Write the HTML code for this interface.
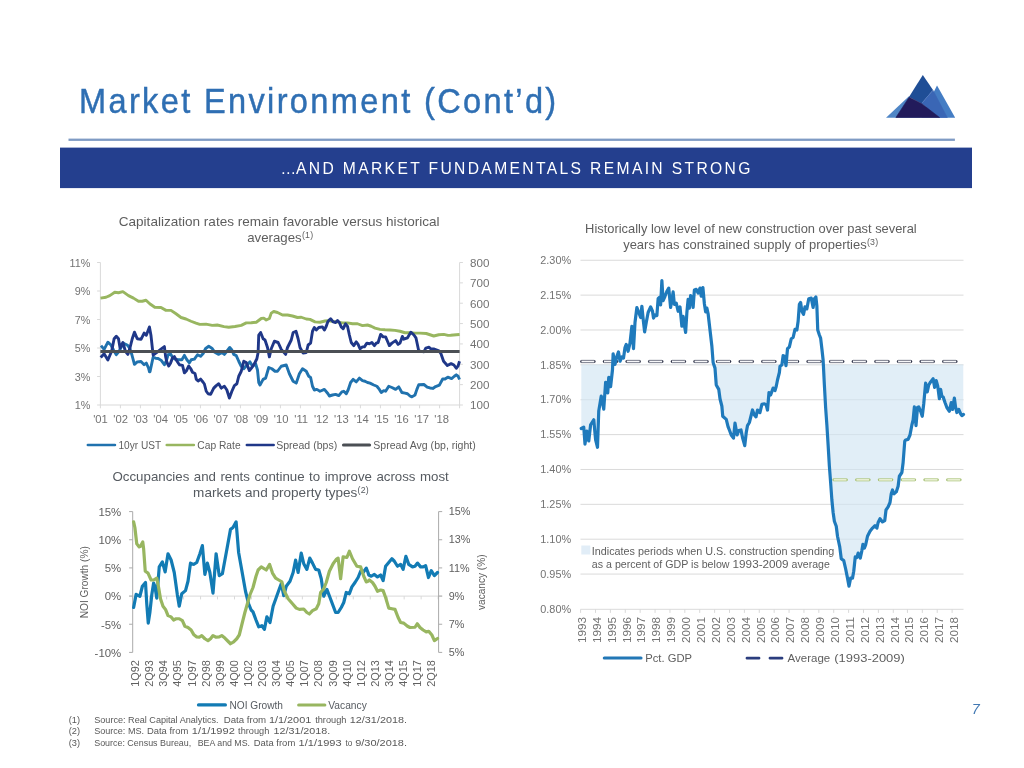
<!DOCTYPE html>
<html lang="en"><head><meta charset="utf-8"><title>Market Environment (Cont’d)</title>
<style>
html,body{margin:0;padding:0;background:#fff;}
body{width:1024px;height:768px;overflow:hidden;}
svg{display:block;font-family:"Liberation Sans",Arial,Helvetica,sans-serif;}
</style></head><body>
<svg width="1024" height="768" viewBox="0 0 1024 768">
<rect width="1024" height="768" fill="#ffffff"/>
<text transform="translate(79.00,112.5) scale(0.92,1)" font-size="35.4" fill="#2F6FB3" textLength="518.70" lengthAdjust="spacing" stroke="#2F6FB3" stroke-width="0.45">Market Environment (Cont’d)</text>
<rect x="68.5" y="138.6" width="886.4" height="2.3" fill="#7F9BC4"/>
<rect x="60" y="147.6" width="912" height="40.5" fill="#243F8E"/>
<text transform="translate(0,173.7) scale(0.9,1)" font-size="17.4" fill="#ffffff"><tspan x="311.78">…</tspan><tspan x="328.89" textLength="504.89" lengthAdjust="spacing">AND MARKET FUNDAMENTALS REMAIN STRONG</tspan></text>
<g><polygon points="886,117.8 909.2,96 921,117.8" fill="#4F86C6"/><polygon points="937,85.5 955.2,117.8 921,117.8" fill="#447DC4"/><polygon points="922.8,75 909,97 921.5,103.5 933,90" fill="#1F4E96"/><polygon points="933,90.3 921.6,103.5 940,117.5 947.3,117.5" fill="#3A66B5" stroke="#3A66B5" stroke-width="0.6" stroke-linejoin="round"/><polygon points="909.1,97.2 895.9,117.5 939.6,117.5 921.5,103.6" fill="#221B5B" stroke="#221B5B" stroke-width="0.6" stroke-linejoin="round"/></g>
<text x="118.75" y="225.6" font-size="12.6" fill="#5E5E5E" textLength="320.8" lengthAdjust="spacingAndGlyphs">Capitalization rates remain favorable versus historical</text><text x="247.2" y="242" font-size="12.6" fill="#5E5E5E"><tspan textLength="54.5" lengthAdjust="spacingAndGlyphs">averages</tspan><tspan font-size="8.8" dx="0.2" dy="-3.9" textLength="11.2" lengthAdjust="spacing">(1)</tspan></text>
<path d="M100.4,262.5 V405.0 M99.9,405.0 H460.1 M459.6,262.5 V405.0" stroke="#D9D9D9" stroke-width="1" fill="none"/>
<text x="90.3" y="266.8" font-size="10.8" fill="#727272" text-anchor="end">11%</text>
<text x="90.3" y="295.3" font-size="10.8" fill="#727272" text-anchor="end">9%</text>
<text x="90.3" y="323.8" font-size="10.8" fill="#727272" text-anchor="end">7%</text>
<text x="90.3" y="352.3" font-size="10.8" fill="#727272" text-anchor="end">5%</text>
<text x="90.3" y="380.8" font-size="10.8" fill="#727272" text-anchor="end">3%</text>
<text x="90.3" y="409.3" font-size="10.8" fill="#727272" text-anchor="end">1%</text>
<text x="470.0" y="266.8" font-size="10.8" fill="#727272" textLength="19.4" lengthAdjust="spacingAndGlyphs">800</text>
<text x="470.0" y="287.16" font-size="10.8" fill="#727272" textLength="19.4" lengthAdjust="spacingAndGlyphs">700</text>
<text x="470.0" y="307.51" font-size="10.8" fill="#727272" textLength="19.4" lengthAdjust="spacingAndGlyphs">600</text>
<text x="470.0" y="327.87" font-size="10.8" fill="#727272" textLength="19.4" lengthAdjust="spacingAndGlyphs">500</text>
<text x="470.0" y="348.23" font-size="10.8" fill="#727272" textLength="19.4" lengthAdjust="spacingAndGlyphs">400</text>
<text x="470.0" y="368.59" font-size="10.8" fill="#727272" textLength="19.4" lengthAdjust="spacingAndGlyphs">300</text>
<text x="470.0" y="388.94" font-size="10.8" fill="#727272" textLength="19.4" lengthAdjust="spacingAndGlyphs">200</text>
<text x="470.0" y="409.3" font-size="10.8" fill="#727272" textLength="19.4" lengthAdjust="spacingAndGlyphs">100</text>
<text x="100.5" y="422.6" font-size="10.8" fill="#727272" text-anchor="middle" textLength="14.64" lengthAdjust="spacingAndGlyphs">'01</text>
<text x="120.57" y="422.6" font-size="10.8" fill="#727272" text-anchor="middle" textLength="14.64" lengthAdjust="spacingAndGlyphs">'02</text>
<text x="140.64" y="422.6" font-size="10.8" fill="#727272" text-anchor="middle" textLength="14.64" lengthAdjust="spacingAndGlyphs">'03</text>
<text x="160.71" y="422.6" font-size="10.8" fill="#727272" text-anchor="middle" textLength="14.64" lengthAdjust="spacingAndGlyphs">'04</text>
<text x="180.78" y="422.6" font-size="10.8" fill="#727272" text-anchor="middle" textLength="14.64" lengthAdjust="spacingAndGlyphs">'05</text>
<text x="200.85" y="422.6" font-size="10.8" fill="#727272" text-anchor="middle" textLength="14.64" lengthAdjust="spacingAndGlyphs">'06</text>
<text x="220.92" y="422.6" font-size="10.8" fill="#727272" text-anchor="middle" textLength="14.64" lengthAdjust="spacingAndGlyphs">'07</text>
<text x="240.99" y="422.6" font-size="10.8" fill="#727272" text-anchor="middle" textLength="14.64" lengthAdjust="spacingAndGlyphs">'08</text>
<text x="261.06" y="422.6" font-size="10.8" fill="#727272" text-anchor="middle" textLength="14.64" lengthAdjust="spacingAndGlyphs">'09</text>
<text x="281.13" y="422.6" font-size="10.8" fill="#727272" text-anchor="middle" textLength="14.64" lengthAdjust="spacingAndGlyphs">'10</text>
<text x="301.2" y="422.6" font-size="10.8" fill="#727272" text-anchor="middle" textLength="13.8" lengthAdjust="spacingAndGlyphs">'11</text>
<text x="321.27" y="422.6" font-size="10.8" fill="#727272" text-anchor="middle" textLength="14.64" lengthAdjust="spacingAndGlyphs">'12</text>
<text x="341.34" y="422.6" font-size="10.8" fill="#727272" text-anchor="middle" textLength="14.64" lengthAdjust="spacingAndGlyphs">'13</text>
<text x="361.41" y="422.6" font-size="10.8" fill="#727272" text-anchor="middle" textLength="14.64" lengthAdjust="spacingAndGlyphs">'14</text>
<text x="381.48" y="422.6" font-size="10.8" fill="#727272" text-anchor="middle" textLength="14.64" lengthAdjust="spacingAndGlyphs">'15</text>
<text x="401.55" y="422.6" font-size="10.8" fill="#727272" text-anchor="middle" textLength="14.64" lengthAdjust="spacingAndGlyphs">'16</text>
<text x="421.62" y="422.6" font-size="10.8" fill="#727272" text-anchor="middle" textLength="14.64" lengthAdjust="spacingAndGlyphs">'17</text>
<text x="441.69" y="422.6" font-size="10.8" fill="#727272" text-anchor="middle" textLength="14.64" lengthAdjust="spacingAndGlyphs">'18</text>
<path d="M97.10000000000001,262.50 H100.4 M97.10000000000001,291.00 H100.4 M97.10000000000001,319.50 H100.4 M97.10000000000001,348.00 H100.4 M97.10000000000001,376.50 H100.4 M97.10000000000001,405.00 H100.4 M459.6,262.50 H462.90000000000003 M459.6,282.86 H462.90000000000003 M459.6,303.21 H462.90000000000003 M459.6,323.57 H462.90000000000003 M459.6,343.93 H462.90000000000003 M459.6,364.29 H462.90000000000003 M459.6,384.64 H462.90000000000003 M459.6,405.00 H462.90000000000003 M100.40,405.0 V408.3 M120.40,405.0 V408.3 M140.40,405.0 V408.3 M160.40,405.0 V408.3 M180.40,405.0 V408.3 M200.40,405.0 V408.3 M220.40,405.0 V408.3 M240.40,405.0 V408.3 M260.40,405.0 V408.3 M280.40,405.0 V408.3 M300.40,405.0 V408.3 M320.40,405.0 V408.3 M340.40,405.0 V408.3 M360.40,405.0 V408.3 M380.40,405.0 V408.3 M400.40,405.0 V408.3 M419.60,405.0 V408.3 M439.60,405.0 V408.3 M459.60,405.0 V408.3" stroke="#D9D9D9" stroke-width="1" fill="none"/>
<path d="M101.00,345.62 L104.12,349.38 L107.88,342.19 L111.00,345.00 L113.50,350.00 L116.31,354.69 L119.12,351.25 L121.00,347.50 L123.50,343.44 L127.25,345.00 L129.75,348.12 L131.94,355.00 L134.44,364.38 L137.25,361.88 L141.00,361.56 L144.12,364.69 L146.31,363.12 L148.50,368.00 L149.50,371.88 L150.00,371.62 L151.25,366.00 L153.12,357.25 L155.62,358.19 L158.12,358.50 L161.25,360.38 L164.38,364.75 L166.25,361.00 L168.12,354.75 L170.62,354.12 L172.50,357.25 L175.00,359.12 L178.12,359.75 L181.88,359.75 L184.38,355.38 L186.88,359.75 L189.38,362.88 L191.25,359.75 L194.38,359.12 L197.50,354.75 L200.62,356.31 L203.12,353.50 L205.62,348.50 L208.75,346.31 L211.88,348.19 L214.00,351.00 L214.38,351.88 L218.75,354.38 L221.88,352.50 L224.38,354.38 L226.88,351.25 L229.75,347.50 L231.88,350.00 L233.75,354.38 L236.25,355.62 L238.75,361.25 L241.25,366.25 L243.75,368.75 L246.88,365.00 L250.00,361.88 L252.50,366.25 L255.62,363.75 L257.50,370.00 L258.75,382.50 L260.00,385.00 L263.12,379.38 L265.62,378.12 L268.75,367.50 L271.88,368.75 L275.00,371.25 L277.50,371.25 L281.25,366.25 L286.25,365.00 L289.38,373.75 L293.12,381.25 L296.25,383.12 L299.38,373.75 L302.50,368.75 L306.25,371.25 L308.75,376.25 L310.62,377.50 L312.50,386.25 L314.38,390.00 L316.88,389.38 L320.00,391.25 L324.38,389.38 L328.00,393.75 L329.38,396.00 L332.50,395.00 L335.62,394.38 L338.75,395.62 L341.88,391.88 L343.75,391.25 L346.25,393.75 L348.12,390.00 L350.62,382.50 L353.12,379.38 L356.25,381.88 L359.38,378.12 L362.50,380.62 L365.00,381.25 L367.50,382.50 L370.00,383.12 L373.75,385.00 L376.88,386.25 L379.38,389.38 L381.25,392.50 L383.75,390.62 L385.62,391.25 L388.75,386.25 L391.88,387.50 L395.62,389.38 L398.75,386.88 L401.88,392.50 L405.00,393.12 L407.50,393.75 L410.00,396.00 L411.88,396.88 L415.00,395.00 L416.88,389.38 L418.75,384.69 L423.91,384.50 L427.19,387.03 L430.00,387.97 L432.81,388.44 L435.62,386.56 L439.37,385.16 L442.66,379.06 L445.00,379.06 L447.81,377.19 L451.56,378.59 L454.37,376.25 L456.25,374.84 L458.12,376.25 L459.53,379.53" stroke="#2072AE" stroke-width="2.9" fill="none" stroke-linejoin="round" stroke-linecap="butt"/>
<path d="M100.50,298.12 L106.00,297.25 L109.75,295.62 L114.75,292.25 L118.50,292.75 L122.88,291.62 L128.50,295.62 L133.50,298.12 L138.50,301.25 L142.25,301.25 L146.00,300.25 L149.75,303.75 L154.75,307.25 L161.00,307.50 L166.00,310.38 L171.00,310.38 L176.00,313.75 L181.00,317.50 L186.00,319.00 L191.00,321.25 L196.00,323.12 L199.75,324.38 L206.00,324.12 L212.25,325.38 L217.25,325.00 L224.00,326.62 L228.75,327.25 L235.00,326.50 L241.25,325.38 L246.25,322.88 L251.25,322.75 L256.25,322.25 L261.25,318.50 L263.75,318.12 L266.25,320.00 L269.38,318.50 L271.25,313.12 L273.75,311.50 L277.50,312.50 L282.50,315.00 L287.50,315.00 L292.50,316.00 L297.50,317.50 L301.25,317.25 L306.25,319.00 L310.00,319.38 L315.00,321.88 L320.00,322.25 L325.00,321.00 L328.00,320.62 L330.00,321.00 L336.25,321.88 L342.50,322.88 L347.50,322.88 L352.50,323.75 L357.50,323.75 L362.50,325.62 L367.50,325.00 L371.25,326.25 L375.00,328.12 L380.00,329.38 L385.00,329.75 L390.00,330.00 L395.00,330.38 L400.00,331.25 L405.00,332.75 L410.00,332.75 L415.00,333.12 L420.00,333.12 L426.25,333.50 L430.00,334.75 L433.75,336.00 L438.75,334.75 L443.75,334.38 L448.00,335.38 L450.62,335.28 L456.25,334.81 L459.60,334.53" stroke="#98B660" stroke-width="2.9" fill="none" stroke-linejoin="round" stroke-linecap="butt"/>
<path d="M100.69,357.50 L104.12,353.75 L107.88,360.00 L111.62,351.25 L114.12,338.75 L116.31,336.25 L118.50,338.75 L120.06,348.12 L122.88,342.50 L125.38,351.25 L127.88,354.38 L129.75,348.75 L132.25,338.75 L134.44,332.19 L137.25,338.75 L141.00,339.38 L144.12,333.12 L146.31,335.31 L149.44,326.88 L151.00,335.62 L152.56,350.00 L153.19,355.00 L156.25,352.88 L160.62,349.44 L164.38,346.62 L165.62,356.62 L166.88,362.25 L168.75,366.00 L170.62,362.88 L172.50,357.88 L174.38,356.62 L176.88,361.00 L179.38,364.75 L182.50,365.38 L184.38,372.88 L186.25,371.00 L188.75,366.00 L190.62,368.50 L192.50,372.25 L195.00,373.50 L196.25,379.12 L198.12,381.00 L200.62,379.12 L203.12,382.25 L204.38,384.00 L206.25,391.25 L208.12,393.75 L210.62,394.38 L213.75,388.12 L216.25,385.62 L218.75,383.75 L221.25,388.12 L224.38,386.25 L226.88,390.00 L229.38,398.12 L231.88,391.25 L234.38,385.62 L236.88,383.75 L238.75,376.25 L241.25,371.25 L243.75,361.25 L246.25,362.50 L249.38,370.62 L251.88,367.50 L255.00,362.50 L256.88,358.75 L258.12,352.50 L258.75,335.00 L260.62,332.50 L263.12,338.75 L265.00,340.00 L267.50,347.50 L269.38,356.88 L271.25,348.75 L274.38,341.25 L278.12,342.50 L281.25,349.38 L285.62,354.38 L287.50,347.50 L291.25,340.00 L293.12,332.50 L296.00,331.25 L298.12,338.75 L300.00,347.50 L303.12,353.12 L306.25,352.50 L308.12,345.00 L310.62,343.12 L312.50,331.25 L314.38,327.50 L316.25,330.00 L318.75,327.50 L322.50,326.88 L324.38,330.00 L326.25,326.25 L328.00,321.25 L328.75,320.62 L330.62,318.75 L333.12,321.88 L335.62,322.50 L337.50,320.62 L339.38,322.50 L341.25,326.88 L343.12,328.75 L345.62,323.75 L347.50,326.25 L349.38,335.00 L351.25,342.50 L353.75,345.62 L356.25,341.88 L358.12,344.38 L360.00,348.75 L362.50,346.88 L364.38,346.88 L366.88,343.12 L369.38,343.75 L371.88,342.50 L374.38,345.62 L376.25,343.12 L378.12,342.50 L380.62,334.38 L383.12,336.88 L385.62,336.88 L387.50,341.25 L389.38,345.62 L391.88,343.12 L395.62,340.62 L398.12,344.38 L400.00,343.12 L402.34,336.41 L403.75,339.22 L407.50,337.81 L410.78,332.19 L413.59,334.53 L415.94,337.81 L418.75,350.94 L423.91,351.87 L425.78,348.12 L429.06,347.19 L430.94,349.06 L434.22,349.06 L438.91,350.94 L440.78,353.28 L443.59,361.25 L447.34,365.47 L451.09,363.59 L453.91,365.00 L456.25,368.28 L458.12,365.94 L459.53,361.25" stroke="#1F3788" stroke-width="2.9" fill="none" stroke-linejoin="round" stroke-linecap="butt"/>
<path d="M100.4,351.5 H459.6" stroke="#4B4F54" stroke-width="3" fill="none"/>
<path d="M87.9,445.0 H114.9" stroke="#2072AE" stroke-width="2.7" stroke-linecap="round"/>
<path d="M166.8,445.0 H193.8" stroke="#98B660" stroke-width="2.7" stroke-linecap="round"/>
<path d="M246.8,445.0 H273.7" stroke="#1F3788" stroke-width="2.5" stroke-linecap="round"/>
<path d="M343.5,445.0 H369.6" stroke="#4B4F54" stroke-width="3.1" stroke-linecap="round"/>
<text x="118.5" y="449.1" font-size="11.2" fill="#5E5E5E" textLength="42.7" lengthAdjust="spacingAndGlyphs">10yr UST</text>
<text x="197.3" y="449.1" font-size="11.2" fill="#5E5E5E" textLength="43.3" lengthAdjust="spacingAndGlyphs">Cap Rate</text>
<text x="276.2" y="449.1" font-size="11.2" fill="#5E5E5E" textLength="61" lengthAdjust="spacingAndGlyphs">Spread (bps)</text>
<text x="373.3" y="449.1" font-size="11.2" fill="#5E5E5E" textLength="102.5" lengthAdjust="spacingAndGlyphs">Spread Avg (bp, right)</text>
<text transform="translate(112.5,480.6) scale(1.056,1)" font-size="12.6" fill="#565B61" word-spacing="0.740">Occupancies and rents continue to improve across most</text><text x="193.1" y="497" font-size="12.6" fill="#565B61"><tspan textLength="164.3" lengthAdjust="spacingAndGlyphs">markets and property types</tspan><tspan font-size="8.8" dx="0.2" dy="-3.9" textLength="11.2" lengthAdjust="spacing">(2)</tspan></text>
<path d="M129.1,596.1 H442.20000000000005" stroke="#D9D9D9" stroke-width="1" fill="none"/>
<path d="M132.70,596.1 V599.4 M149.67,596.1 V599.4 M166.63,596.1 V599.4 M183.60,596.1 V599.4 M200.57,596.1 V599.4 M217.53,596.1 V599.4 M234.50,596.1 V599.4 M251.47,596.1 V599.4 M268.44,596.1 V599.4 M285.40,596.1 V599.4 M302.37,596.1 V599.4 M319.34,596.1 V599.4 M336.30,596.1 V599.4 M353.27,596.1 V599.4 M370.24,596.1 V599.4 M387.20,596.1 V599.4 M404.17,596.1 V599.4 M421.14,596.1 V599.4 M438.11,596.1 V599.4" stroke="#D9D9D9" stroke-width="1" fill="none"/>
<path d="M132.7,511.6 V652.4 M438.6,511.6 V652.4" stroke="#ABABAB" stroke-width="1" fill="none"/>
<text x="121.2" y="515.9" font-size="11.4" fill="#606060" text-anchor="end">15%</text>
<text x="448.7" y="515.1" font-size="11.4" fill="#606060" textLength="21.68" lengthAdjust="spacingAndGlyphs">15%</text>
<text x="121.2" y="544.06" font-size="11.4" fill="#606060" text-anchor="end">10%</text>
<text x="448.7" y="543.33" font-size="11.4" fill="#606060" textLength="21.68" lengthAdjust="spacingAndGlyphs">13%</text>
<text x="121.2" y="572.22" font-size="11.4" fill="#606060" text-anchor="end">5%</text>
<text x="448.7" y="571.56" font-size="11.4" fill="#606060" textLength="20.87" lengthAdjust="spacingAndGlyphs">11%</text>
<text x="121.2" y="600.38" font-size="11.4" fill="#606060" text-anchor="end">0%</text>
<text x="448.7" y="599.79" font-size="11.4" fill="#606060" textLength="15.65" lengthAdjust="spacingAndGlyphs">9%</text>
<text x="121.2" y="628.54" font-size="11.4" fill="#606060" text-anchor="end">-5%</text>
<text x="448.7" y="628.02" font-size="11.4" fill="#606060" textLength="15.65" lengthAdjust="spacingAndGlyphs">7%</text>
<text x="121.2" y="656.7" font-size="11.4" fill="#606060" text-anchor="end">-10%</text>
<text x="448.7" y="656.25" font-size="11.4" fill="#606060" textLength="15.65" lengthAdjust="spacingAndGlyphs">5%</text>
<path d="M129.1,511.60 H132.7 M438.6,511.60 H442.20000000000005 M129.1,539.76 H132.7 M438.6,539.76 H442.20000000000005 M129.1,567.92 H132.7 M438.6,567.92 H442.20000000000005 M129.1,596.08 H132.7 M438.6,596.08 H442.20000000000005 M129.1,624.24 H132.7 M438.6,624.24 H442.20000000000005 M129.1,652.40 H132.7 M438.6,652.40 H442.20000000000005" stroke="#ABABAB" stroke-width="1" fill="none"/>
<text transform="translate(139.10,686.80) rotate(-90)" font-size="11.4" fill="#606060" textLength="26.6" lengthAdjust="spacingAndGlyphs">1Q92</text>
<text transform="translate(153.20,686.80) rotate(-90)" font-size="11.4" fill="#606060" textLength="26.6" lengthAdjust="spacingAndGlyphs">2Q93</text>
<text transform="translate(167.30,686.80) rotate(-90)" font-size="11.4" fill="#606060" textLength="26.6" lengthAdjust="spacingAndGlyphs">3Q94</text>
<text transform="translate(181.40,686.80) rotate(-90)" font-size="11.4" fill="#606060" textLength="26.6" lengthAdjust="spacingAndGlyphs">4Q95</text>
<text transform="translate(195.50,686.80) rotate(-90)" font-size="11.4" fill="#606060" textLength="26.6" lengthAdjust="spacingAndGlyphs">1Q97</text>
<text transform="translate(209.60,686.80) rotate(-90)" font-size="11.4" fill="#606060" textLength="26.6" lengthAdjust="spacingAndGlyphs">2Q98</text>
<text transform="translate(223.70,686.80) rotate(-90)" font-size="11.4" fill="#606060" textLength="26.6" lengthAdjust="spacingAndGlyphs">3Q99</text>
<text transform="translate(237.80,686.80) rotate(-90)" font-size="11.4" fill="#606060" textLength="26.6" lengthAdjust="spacingAndGlyphs">4Q00</text>
<text transform="translate(251.90,686.80) rotate(-90)" font-size="11.4" fill="#606060" textLength="26.6" lengthAdjust="spacingAndGlyphs">1Q02</text>
<text transform="translate(266.00,686.80) rotate(-90)" font-size="11.4" fill="#606060" textLength="26.6" lengthAdjust="spacingAndGlyphs">2Q03</text>
<text transform="translate(280.10,686.80) rotate(-90)" font-size="11.4" fill="#606060" textLength="26.6" lengthAdjust="spacingAndGlyphs">3Q04</text>
<text transform="translate(294.20,686.80) rotate(-90)" font-size="11.4" fill="#606060" textLength="26.6" lengthAdjust="spacingAndGlyphs">4Q05</text>
<text transform="translate(308.30,686.80) rotate(-90)" font-size="11.4" fill="#606060" textLength="26.6" lengthAdjust="spacingAndGlyphs">1Q07</text>
<text transform="translate(322.40,686.80) rotate(-90)" font-size="11.4" fill="#606060" textLength="26.6" lengthAdjust="spacingAndGlyphs">2Q08</text>
<text transform="translate(336.50,686.80) rotate(-90)" font-size="11.4" fill="#606060" textLength="26.6" lengthAdjust="spacingAndGlyphs">3Q09</text>
<text transform="translate(350.60,686.80) rotate(-90)" font-size="11.4" fill="#606060" textLength="26.6" lengthAdjust="spacingAndGlyphs">4Q10</text>
<text transform="translate(364.70,686.80) rotate(-90)" font-size="11.4" fill="#606060" textLength="26.6" lengthAdjust="spacingAndGlyphs">1Q12</text>
<text transform="translate(378.80,686.80) rotate(-90)" font-size="11.4" fill="#606060" textLength="26.6" lengthAdjust="spacingAndGlyphs">2Q13</text>
<text transform="translate(392.90,686.80) rotate(-90)" font-size="11.4" fill="#606060" textLength="26.6" lengthAdjust="spacingAndGlyphs">3Q14</text>
<text transform="translate(407.00,686.80) rotate(-90)" font-size="11.4" fill="#606060" textLength="26.6" lengthAdjust="spacingAndGlyphs">4Q15</text>
<text transform="translate(421.10,686.80) rotate(-90)" font-size="11.4" fill="#606060" textLength="26.6" lengthAdjust="spacingAndGlyphs">1Q17</text>
<text transform="translate(435.20,686.80) rotate(-90)" font-size="11.4" fill="#606060" textLength="26.6" lengthAdjust="spacingAndGlyphs">2Q18</text>
<text transform="translate(87.80,618.20) rotate(-90)" font-size="11.2" fill="#606060" textLength="72" lengthAdjust="spacingAndGlyphs">NOI Growth (%)</text>
<text transform="translate(484.90,610.00) rotate(-90)" font-size="11.2" fill="#606060" textLength="55.5" lengthAdjust="spacingAndGlyphs">vacancy (%)</text>
<path d="M133.62,607.50 L136.12,594.38 L139.88,596.25 L142.38,586.25 L145.50,582.50 L146.75,603.75 L148.25,623.12 L149.88,612.50 L151.75,595.00 L153.62,583.12 L154.88,586.25 L156.75,598.12 L159.25,566.88 L162.38,561.88 L165.12,571.88 L168.00,553.75 L171.12,560.00 L174.25,572.50 L177.38,595.00 L179.25,606.25 L181.75,593.75 L185.50,590.62 L188.00,581.25 L190.50,563.12 L193.62,564.38 L196.75,562.50 L199.88,553.75 L202.38,545.62 L204.88,574.38 L207.38,563.12 L209.88,572.50 L213.00,593.12 L216.12,553.75 L219.25,575.62 L222.38,573.75 L226.75,550.00 L230.50,529.38 L233.00,527.50 L236.12,521.88 L238.62,552.50 L241.75,570.00 L245.50,591.25 L248.62,603.75 L251.12,610.00 L253.00,611.88 L256.00,620.00 L256.25,620.62 L258.75,626.88 L261.88,625.62 L264.38,629.38 L266.88,616.88 L270.00,622.50 L273.12,606.25 L276.25,597.50 L279.38,588.75 L281.25,583.75 L283.75,595.62 L286.25,586.25 L290.00,581.25 L293.12,572.50 L295.62,560.00 L298.12,572.50 L301.25,553.12 L303.75,563.75 L306.88,569.38 L309.75,558.12 L312.50,563.12 L315.62,569.38 L318.75,570.00 L321.25,578.75 L323.75,596.25 L326.88,589.38 L330.00,597.50 L333.75,607.50 L335.62,612.50 L338.12,612.50 L341.25,607.50 L343.75,602.50 L346.25,592.50 L349.38,593.75 L351.88,586.88 L355.00,582.50 L358.12,577.50 L360.62,571.25 L363.12,572.50 L366.25,568.12 L368.00,572.50 L368.75,575.00 L371.25,576.25 L374.38,574.38 L377.50,576.88 L380.62,575.00 L383.12,580.62 L385.62,566.25 L388.75,562.50 L391.88,558.75 L394.38,561.25 L397.50,566.25 L400.62,564.38 L403.12,569.38 L405.88,556.25 L408.75,564.38 L412.50,566.88 L415.00,566.25 L417.50,563.12 L420.62,566.88 L423.12,566.88 L425.62,565.62 L428.50,577.50 L431.25,570.62 L434.38,575.62 L437.50,572.50" stroke="#127BB4" stroke-width="3.2" fill="none" stroke-linejoin="round" stroke-linecap="round"/>
<path d="M133.62,521.88 L134.88,527.50 L136.75,543.75 L139.25,546.88 L140.50,546.25 L142.75,541.88 L143.62,548.75 L145.25,571.25 L148.00,573.12 L151.12,580.00 L153.62,580.00 L156.75,578.12 L158.62,587.50 L160.50,598.75 L163.00,606.25 L165.50,609.38 L168.00,615.62 L171.12,616.88 L173.62,620.00 L176.12,618.75 L179.25,618.75 L182.38,620.62 L184.88,626.25 L188.00,627.50 L191.12,630.00 L193.62,634.38 L196.75,636.88 L199.25,637.25 L201.75,635.62 L204.88,638.75 L208.00,640.62 L210.50,638.75 L213.00,635.62 L216.12,637.25 L219.25,636.88 L221.75,635.62 L224.88,638.12 L228.00,641.25 L230.50,643.75 L233.62,641.88 L236.75,638.75 L239.25,635.00 L241.75,625.00 L244.88,612.50 L247.38,603.75 L249.88,595.00 L253.00,587.50 L256.00,576.25 L258.12,570.00 L261.25,566.88 L266.25,570.00 L269.62,564.38 L272.50,573.12 L275.62,578.12 L278.75,580.00 L281.88,581.88 L284.38,591.25 L288.12,598.75 L292.50,603.75 L296.25,608.12 L299.38,609.38 L303.75,609.00 L306.88,612.50 L309.38,614.00 L312.50,610.62 L316.25,608.75 L318.75,603.75 L320.62,592.50 L323.75,588.75 L326.25,582.50 L329.38,571.25 L333.12,563.75 L336.25,559.38 L338.12,558.12 L340.62,578.75 L343.12,556.88 L346.88,557.50 L349.38,551.25 L352.50,558.75 L356.88,566.25 L360.62,566.88 L363.75,576.25 L366.25,581.88 L368.00,581.25 L369.38,580.00 L372.50,582.50 L375.00,586.25 L377.50,591.25 L380.62,590.00 L383.12,590.62 L385.62,597.50 L388.75,608.12 L391.88,608.75 L395.00,609.38 L398.12,617.50 L400.62,622.50 L403.75,623.12 L407.50,626.25 L410.00,627.50 L415.00,627.25 L417.25,623.75 L420.00,627.50 L423.12,630.00 L426.25,631.88 L428.75,631.25 L431.88,635.00 L434.38,640.62 L437.50,638.50" stroke="#98B660" stroke-width="3.2" fill="none" stroke-linejoin="round" stroke-linecap="round"/>
<path d="M198.5,704.9 H225.4" stroke="#127BB4" stroke-width="3.2" stroke-linecap="round"/>
<text x="229.5" y="708.8" font-size="11.2" fill="#565B61" textLength="53.5" lengthAdjust="spacingAndGlyphs">NOI Growth</text>
<path d="M298.6,705 H324.9" stroke="#98B660" stroke-width="3" stroke-linecap="round"/>
<text x="328.3" y="708.8" font-size="11.2" fill="#565B61" textLength="38.5" lengthAdjust="spacingAndGlyphs">Vacancy</text>
<text x="585.1" y="233.3" font-size="12.6" fill="#5E5E5E" textLength="331.6" lengthAdjust="spacingAndGlyphs">Historically low level of new construction over past several</text><text x="623.2" y="248.7" font-size="12.6" fill="#5E5E5E"><tspan textLength="243.5" lengthAdjust="spacingAndGlyphs">years has constrained supply of properties</tspan><tspan font-size="8.8" dx="0.2" dy="-3.9" textLength="11.2" lengthAdjust="spacing">(3)</tspan></text>
<text x="540.3" y="263.95" font-size="10.8" fill="#727272" textLength="30.8" lengthAdjust="spacingAndGlyphs">2.30%</text>
<text x="540.3" y="298.82" font-size="10.8" fill="#727272" textLength="30.8" lengthAdjust="spacingAndGlyphs">2.15%</text>
<text x="540.3" y="333.69" font-size="10.8" fill="#727272" textLength="30.8" lengthAdjust="spacingAndGlyphs">2.00%</text>
<text x="540.3" y="368.56" font-size="10.8" fill="#727272" textLength="30.8" lengthAdjust="spacingAndGlyphs">1.85%</text>
<text x="540.3" y="403.43" font-size="10.8" fill="#727272" textLength="30.8" lengthAdjust="spacingAndGlyphs">1.70%</text>
<text x="540.3" y="438.3" font-size="10.8" fill="#727272" textLength="30.8" lengthAdjust="spacingAndGlyphs">1.55%</text>
<text x="540.3" y="473.17" font-size="10.8" fill="#727272" textLength="30.8" lengthAdjust="spacingAndGlyphs">1.40%</text>
<text x="540.3" y="508.04" font-size="10.8" fill="#727272" textLength="30.8" lengthAdjust="spacingAndGlyphs">1.25%</text>
<text x="540.3" y="542.91" font-size="10.8" fill="#727272" textLength="30.8" lengthAdjust="spacingAndGlyphs">1.10%</text>
<text x="540.3" y="577.78" font-size="10.8" fill="#727272" textLength="30.8" lengthAdjust="spacingAndGlyphs">0.95%</text>
<text x="540.3" y="612.65" font-size="10.8" fill="#727272" textLength="30.8" lengthAdjust="spacingAndGlyphs">0.80%</text>
<path d="M580.5,260.25 H963.5 M580.5,295.12 H963.5 M580.5,329.99 H963.5 M580.5,364.86 H963.5 M580.5,399.73 H963.5 M580.5,434.60 H963.5 M580.5,469.47 H963.5 M580.5,504.34 H963.5 M580.5,539.21 H963.5 M580.5,574.08 H963.5 M580.5,609.30 H963.5" stroke="#D6D6D6" stroke-width="1" fill="none" opacity="0.9"/>
<clipPath id="cs"><rect x="580.8" y="364.3" width="382.70000000000005" height="300"/></clipPath>
<path d="M581.30,364.30 L581.30,428.50 L583.75,427.25 L585.00,444.12 L586.88,431.00 L588.75,441.00 L590.62,424.75 L593.75,419.75 L595.62,439.75 L597.50,447.25 L598.75,411.00 L601.25,396.00 L603.75,409.12 L605.62,382.25 L607.75,392.88 L608.75,377.25 L610.62,386.62 L612.50,369.75 L613.12,353.75 L615.00,364.38 L616.88,356.25 L618.50,351.88 L620.00,361.25 L621.88,356.88 L623.50,358.12 L625.00,347.50 L626.25,344.38 L628.12,351.25 L630.00,343.12 L631.88,326.25 L633.50,348.75 L635.00,322.50 L636.88,307.50 L638.75,312.50 L640.62,317.50 L641.88,306.25 L643.12,318.75 L644.62,331.88 L646.25,322.50 L648.12,312.50 L650.62,306.88 L652.50,311.25 L653.50,318.12 L655.00,315.00 L656.88,315.62 L658.12,298.75 L659.38,297.50 L660.62,305.00 L661.88,280.62 L663.12,300.62 L665.00,296.25 L666.88,291.25 L668.75,288.12 L670.62,307.50 L671.88,300.00 L673.12,291.88 L674.38,304.38 L676.25,303.12 L678.12,311.25 L680.00,306.88 L681.88,326.25 L683.12,316.25 L684.38,325.00 L685.62,332.50 L686.88,312.50 L688.12,299.38 L689.38,308.12 L690.62,295.62 L691.88,297.50 L693.12,307.50 L694.38,290.00 L696.25,289.38 L698.12,293.12 L700.00,288.12 L701.25,296.25 L702.88,287.50 L704.38,303.75 L705.62,311.88 L706.88,308.12 L708.12,313.75 L710.00,330.00 L711.88,346.25 L713.12,362.50 L715.00,368.12 L716.25,385.00 L718.75,389.38 L720.00,398.75 L721.88,406.25 L722.75,416.25 L726.25,419.38 L728.12,426.88 L729.38,430.00 L731.25,435.00 L733.50,438.12 L735.00,423.12 L737.12,435.00 L738.75,430.62 L741.00,430.00 L742.50,437.50 L744.75,445.62 L746.25,432.50 L747.50,425.62 L749.38,422.50 L751.25,415.00 L752.50,410.00 L754.38,415.00 L756.00,416.88 L757.50,410.00 L760.00,412.50 L761.88,404.38 L764.38,403.75 L766.25,405.00 L767.50,410.00 L769.00,392.50 L770.62,395.00 L773.12,388.12 L775.00,390.62 L776.25,386.25 L777.50,380.00 L779.38,372.50 L780.00,366.25 L781.88,365.00 L783.12,355.62 L784.38,356.25 L786.00,365.62 L787.50,348.75 L789.38,346.88 L791.25,338.75 L793.12,337.50 L795.00,329.38 L796.88,330.00 L798.12,321.25 L799.38,304.38 L800.62,302.50 L801.88,311.25 L803.50,314.38 L805.00,306.88 L806.88,308.75 L808.75,298.75 L811.25,298.12 L813.12,307.50 L814.38,298.75 L815.88,296.88 L816.88,306.25 L817.75,330.00 L819.38,335.00 L820.62,338.12 L821.88,348.75 L823.12,360.00 L824.38,385.00 L825.62,407.50 L826.88,425.00 L828.12,445.00 L829.38,466.25 L830.62,482.50 L831.88,500.00 L833.12,512.50 L834.38,521.25 L836.25,526.25 L837.50,536.25 L839.75,546.88 L841.25,558.75 L843.75,560.62 L845.62,568.75 L847.50,578.12 L849.00,586.25 L850.62,578.12 L852.50,578.12 L853.75,571.25 L855.25,556.88 L856.88,557.50 L858.12,553.12 L860.25,558.12 L861.88,550.62 L862.88,544.38 L864.38,548.12 L865.62,545.00 L867.50,536.25 L870.00,531.25 L872.50,528.12 L875.00,525.62 L876.88,528.12 L878.12,522.50 L880.00,518.75 L882.50,521.88 L884.75,520.62 L886.00,510.00 L888.12,506.88 L890.00,502.50 L891.25,493.75 L892.50,490.00 L894.00,493.75 L896.25,491.88 L898.12,486.25 L899.38,476.25 L901.88,472.50 L903.12,462.50 L904.75,441.25 L905.62,440.00 L908.12,439.38 L910.00,435.00 L911.88,425.00 L913.12,420.00 L914.38,406.88 L916.00,425.62 L917.50,407.50 L918.75,406.88 L920.62,411.25 L922.25,416.25 L923.75,403.75 L925.62,383.12 L927.25,391.88 L928.75,385.00 L930.62,381.88 L933.12,378.75 L934.62,387.50 L936.25,380.62 L937.75,386.25 L939.38,398.75 L940.62,389.38 L941.88,396.25 L943.12,396.88 L945.00,402.50 L946.88,407.50 L949.38,411.25 L951.25,402.50 L952.50,409.38 L954.38,398.12 L955.62,407.50 L956.88,412.50 L958.75,409.38 L960.62,413.75 L961.88,415.62 L963.50,414.38 L963.50,414.38 L963.50,364.30 Z" fill="rgb(209,229,243)" fill-opacity="0.65" clip-path="url(#cs)"/>
<text transform="translate(585.90,643.00) rotate(-90)" font-size="11.2" fill="#727272" textLength="26" lengthAdjust="spacingAndGlyphs">1993</text>
<text transform="translate(600.79,643.00) rotate(-90)" font-size="11.2" fill="#727272" textLength="26" lengthAdjust="spacingAndGlyphs">1994</text>
<text transform="translate(615.68,643.00) rotate(-90)" font-size="11.2" fill="#727272" textLength="26" lengthAdjust="spacingAndGlyphs">1995</text>
<text transform="translate(630.57,643.00) rotate(-90)" font-size="11.2" fill="#727272" textLength="26" lengthAdjust="spacingAndGlyphs">1996</text>
<text transform="translate(645.46,643.00) rotate(-90)" font-size="11.2" fill="#727272" textLength="26" lengthAdjust="spacingAndGlyphs">1997</text>
<text transform="translate(660.35,643.00) rotate(-90)" font-size="11.2" fill="#727272" textLength="26" lengthAdjust="spacingAndGlyphs">1998</text>
<text transform="translate(675.24,643.00) rotate(-90)" font-size="11.2" fill="#727272" textLength="26" lengthAdjust="spacingAndGlyphs">1999</text>
<text transform="translate(690.13,643.00) rotate(-90)" font-size="11.2" fill="#727272" textLength="26" lengthAdjust="spacingAndGlyphs">2000</text>
<text transform="translate(705.02,643.00) rotate(-90)" font-size="11.2" fill="#727272" textLength="26" lengthAdjust="spacingAndGlyphs">2001</text>
<text transform="translate(719.91,643.00) rotate(-90)" font-size="11.2" fill="#727272" textLength="26" lengthAdjust="spacingAndGlyphs">2002</text>
<text transform="translate(734.80,643.00) rotate(-90)" font-size="11.2" fill="#727272" textLength="26" lengthAdjust="spacingAndGlyphs">2003</text>
<text transform="translate(749.69,643.00) rotate(-90)" font-size="11.2" fill="#727272" textLength="26" lengthAdjust="spacingAndGlyphs">2004</text>
<text transform="translate(764.58,643.00) rotate(-90)" font-size="11.2" fill="#727272" textLength="26" lengthAdjust="spacingAndGlyphs">2005</text>
<text transform="translate(779.47,643.00) rotate(-90)" font-size="11.2" fill="#727272" textLength="26" lengthAdjust="spacingAndGlyphs">2006</text>
<text transform="translate(794.36,643.00) rotate(-90)" font-size="11.2" fill="#727272" textLength="26" lengthAdjust="spacingAndGlyphs">2007</text>
<text transform="translate(809.25,643.00) rotate(-90)" font-size="11.2" fill="#727272" textLength="26" lengthAdjust="spacingAndGlyphs">2008</text>
<text transform="translate(824.14,643.00) rotate(-90)" font-size="11.2" fill="#727272" textLength="26" lengthAdjust="spacingAndGlyphs">2009</text>
<text transform="translate(839.03,643.00) rotate(-90)" font-size="11.2" fill="#727272" textLength="26" lengthAdjust="spacingAndGlyphs">2010</text>
<text transform="translate(853.92,643.00) rotate(-90)" font-size="11.2" fill="#727272" textLength="26" lengthAdjust="spacingAndGlyphs">2011</text>
<text transform="translate(868.81,643.00) rotate(-90)" font-size="11.2" fill="#727272" textLength="26" lengthAdjust="spacingAndGlyphs">2012</text>
<text transform="translate(883.70,643.00) rotate(-90)" font-size="11.2" fill="#727272" textLength="26" lengthAdjust="spacingAndGlyphs">2013</text>
<text transform="translate(898.59,643.00) rotate(-90)" font-size="11.2" fill="#727272" textLength="26" lengthAdjust="spacingAndGlyphs">2014</text>
<text transform="translate(913.48,643.00) rotate(-90)" font-size="11.2" fill="#727272" textLength="26" lengthAdjust="spacingAndGlyphs">2015</text>
<text transform="translate(928.37,643.00) rotate(-90)" font-size="11.2" fill="#727272" textLength="26" lengthAdjust="spacingAndGlyphs">2016</text>
<text transform="translate(943.26,643.00) rotate(-90)" font-size="11.2" fill="#727272" textLength="26" lengthAdjust="spacingAndGlyphs">2017</text>
<text transform="translate(958.15,643.00) rotate(-90)" font-size="11.2" fill="#727272" textLength="26" lengthAdjust="spacingAndGlyphs">2018</text>
<path d="M580.60,609.30 V612.90 M595.49,609.30 V612.90 M610.38,609.30 V612.90 M625.27,609.30 V612.90 M640.16,609.30 V612.90 M655.05,609.30 V612.90 M669.94,609.30 V612.90 M684.83,609.30 V612.90 M699.72,609.30 V612.90 M714.61,609.30 V612.90 M729.50,609.30 V612.90 M744.39,609.30 V612.90 M759.28,609.30 V612.90 M774.17,609.30 V612.90 M789.06,609.30 V612.90 M803.95,609.30 V612.90 M818.84,609.30 V612.90 M833.73,609.30 V612.90 M848.62,609.30 V612.90 M863.51,609.30 V612.90 M878.40,609.30 V612.90 M893.29,609.30 V612.90 M907.43,609.30 V612.90 M922.32,609.30 V612.90 M937.21,609.30 V612.90 M952.10,609.30 V612.90" stroke="#D9D9D9" stroke-width="1" fill="none"/>
<g fill="#F8F8FA" stroke="#30344A" stroke-width="0.65"><rect x="580.60" y="360.35" width="14.60" height="2.3" rx="1.1"/><rect x="603.22" y="360.35" width="14.60" height="2.3" rx="1.1"/><rect x="625.84" y="360.35" width="14.60" height="2.3" rx="1.1"/><rect x="648.46" y="360.35" width="14.60" height="2.3" rx="1.1"/><rect x="671.08" y="360.35" width="14.60" height="2.3" rx="1.1"/><rect x="693.70" y="360.35" width="14.60" height="2.3" rx="1.1"/><rect x="716.32" y="360.35" width="14.60" height="2.3" rx="1.1"/><rect x="738.94" y="360.35" width="14.60" height="2.3" rx="1.1"/><rect x="761.56" y="360.35" width="14.60" height="2.3" rx="1.1"/><rect x="784.18" y="360.35" width="14.60" height="2.3" rx="1.1"/><rect x="806.80" y="360.35" width="14.60" height="2.3" rx="1.1"/><rect x="829.42" y="360.35" width="14.60" height="2.3" rx="1.1"/><rect x="852.04" y="360.35" width="14.60" height="2.3" rx="1.1"/><rect x="874.66" y="360.35" width="14.60" height="2.3" rx="1.1"/><rect x="897.28" y="360.35" width="14.60" height="2.3" rx="1.1"/><rect x="919.90" y="360.35" width="14.60" height="2.3" rx="1.1"/><rect x="942.52" y="360.35" width="14.60" height="2.3" rx="1.1"/></g><path d="M580.50,361.50 h0.9 M594.40,361.50 h0.9 M603.12,361.50 h0.9 M617.02,361.50 h0.9 M625.74,361.50 h0.9 M639.64,361.50 h0.9 M648.36,361.50 h0.9 M662.26,361.50 h0.9 M670.98,361.50 h0.9 M684.88,361.50 h0.9 M693.60,361.50 h0.9 M707.50,361.50 h0.9 M716.22,361.50 h0.9 M730.12,361.50 h0.9 M738.84,361.50 h0.9 M752.74,361.50 h0.9 M761.46,361.50 h0.9 M775.36,361.50 h0.9 M784.08,361.50 h0.9 M797.98,361.50 h0.9 M806.70,361.50 h0.9 M820.60,361.50 h0.9 M829.32,361.50 h0.9 M843.22,361.50 h0.9 M851.94,361.50 h0.9 M865.84,361.50 h0.9 M874.56,361.50 h0.9 M888.46,361.50 h0.9 M897.18,361.50 h0.9 M911.08,361.50 h0.9 M919.80,361.50 h0.9 M933.70,361.50 h0.9 M942.42,361.50 h0.9 M956.32,361.50 h0.9" stroke="#23273D" stroke-width="1.9" fill="none"/>
<g fill="#EEF3DC" stroke="#A3BE70" stroke-width="0.65"><rect x="832.80" y="478.65" width="14.60" height="2.3" rx="1.1"/><rect x="855.55" y="478.65" width="14.60" height="2.3" rx="1.1"/><rect x="878.30" y="478.65" width="14.60" height="2.3" rx="1.1"/><rect x="901.05" y="478.65" width="14.60" height="2.3" rx="1.1"/><rect x="923.80" y="478.65" width="14.60" height="2.3" rx="1.1"/><rect x="946.55" y="478.65" width="14.60" height="2.3" rx="1.1"/></g><path d="M832.70,479.80 h0.9 M846.60,479.80 h0.9 M855.45,479.80 h0.9 M869.35,479.80 h0.9 M878.20,479.80 h0.9 M892.10,479.80 h0.9 M900.95,479.80 h0.9 M914.85,479.80 h0.9 M923.70,479.80 h0.9 M937.60,479.80 h0.9 M946.45,479.80 h0.9 M960.35,479.80 h0.9" stroke="#A3BE70" stroke-width="1.9" fill="none"/>
<path d="M581.25,428.50 L583.75,427.25 L585.00,444.12 L586.88,431.00 L588.75,441.00 L590.62,424.75 L593.75,419.75 L595.62,439.75 L597.50,447.25 L598.75,411.00 L601.25,396.00 L603.75,409.12 L605.62,382.25 L607.75,392.88 L608.75,377.25 L610.62,386.62 L612.50,369.75 L613.12,353.75 L615.00,364.38 L616.88,356.25 L618.50,351.88 L620.00,361.25 L621.88,356.88 L623.50,358.12 L625.00,347.50 L626.25,344.38 L628.12,351.25 L630.00,343.12 L631.88,326.25 L633.50,348.75 L635.00,322.50 L636.88,307.50 L638.75,312.50 L640.62,317.50 L641.88,306.25 L643.12,318.75 L644.62,331.88 L646.25,322.50 L648.12,312.50 L650.62,306.88 L652.50,311.25 L653.50,318.12 L655.00,315.00 L656.88,315.62 L658.12,298.75 L659.38,297.50 L660.62,305.00 L661.88,280.62 L663.12,300.62 L665.00,296.25 L666.88,291.25 L668.75,288.12 L670.62,307.50 L671.88,300.00 L673.12,291.88 L674.38,304.38 L676.25,303.12 L678.12,311.25 L680.00,306.88 L681.88,326.25 L683.12,316.25 L684.38,325.00 L685.62,332.50 L686.88,312.50 L688.12,299.38 L689.38,308.12 L690.62,295.62 L691.88,297.50 L693.12,307.50 L694.38,290.00 L696.25,289.38 L698.12,293.12 L700.00,288.12 L701.25,296.25 L702.88,287.50 L704.38,303.75 L705.62,311.88 L706.88,308.12 L708.12,313.75 L710.00,330.00 L711.88,346.25 L713.12,362.50 L715.00,368.12 L716.25,385.00 L718.75,389.38 L720.00,398.75 L721.88,406.25 L722.75,416.25 L726.25,419.38 L728.12,426.88 L729.38,430.00 L731.25,435.00 L733.50,438.12 L735.00,423.12 L737.12,435.00 L738.75,430.62 L741.00,430.00 L742.50,437.50 L744.75,445.62 L746.25,432.50 L747.50,425.62 L749.38,422.50 L751.25,415.00 L752.50,410.00 L754.38,415.00 L756.00,416.88 L757.50,410.00 L760.00,412.50 L761.88,404.38 L764.38,403.75 L766.25,405.00 L767.50,410.00 L769.00,392.50 L770.62,395.00 L773.12,388.12 L775.00,390.62 L776.25,386.25 L777.50,380.00 L779.38,372.50 L780.00,366.25 L781.88,365.00 L783.12,355.62 L784.38,356.25 L786.00,365.62 L787.50,348.75 L789.38,346.88 L791.25,338.75 L793.12,337.50 L795.00,329.38 L796.88,330.00 L798.12,321.25 L799.38,304.38 L800.62,302.50 L801.88,311.25 L803.50,314.38 L805.00,306.88 L806.88,308.75 L808.75,298.75 L811.25,298.12 L813.12,307.50 L814.38,298.75 L815.88,296.88 L816.88,306.25 L817.75,330.00 L819.38,335.00 L820.62,338.12 L821.88,348.75 L823.12,360.00 L824.38,385.00 L825.62,407.50 L826.88,425.00 L828.12,445.00 L829.38,466.25 L830.62,482.50 L831.88,500.00 L833.12,512.50 L834.38,521.25 L836.25,526.25 L837.50,536.25 L839.75,546.88 L841.25,558.75 L843.75,560.62 L845.62,568.75 L847.50,578.12 L849.00,586.25 L850.62,578.12 L852.50,578.12 L853.75,571.25 L855.25,556.88 L856.88,557.50 L858.12,553.12 L860.25,558.12 L861.88,550.62 L862.88,544.38 L864.38,548.12 L865.62,545.00 L867.50,536.25 L870.00,531.25 L872.50,528.12 L875.00,525.62 L876.88,528.12 L878.12,522.50 L880.00,518.75 L882.50,521.88 L884.75,520.62 L886.00,510.00 L888.12,506.88 L890.00,502.50 L891.25,493.75 L892.50,490.00 L894.00,493.75 L896.25,491.88 L898.12,486.25 L899.38,476.25 L901.88,472.50 L903.12,462.50 L904.75,441.25 L905.62,440.00 L908.12,439.38 L910.00,435.00 L911.88,425.00 L913.12,420.00 L914.38,406.88 L916.00,425.62 L917.50,407.50 L918.75,406.88 L920.62,411.25 L922.25,416.25 L923.75,403.75 L925.62,383.12 L927.25,391.88 L928.75,385.00 L930.62,381.88 L933.12,378.75 L934.62,387.50 L936.25,380.62 L937.75,386.25 L939.38,398.75 L940.62,389.38 L941.88,396.25 L943.12,396.88 L945.00,402.50 L946.88,407.50 L949.38,411.25 L951.25,402.50 L952.50,409.38 L954.38,398.12 L955.62,407.50 L956.88,412.50 L958.75,409.38 L960.62,413.75 L961.88,415.62 L963.50,414.38" stroke="#1F7ABC" stroke-width="3.2" fill="none" stroke-linejoin="round" stroke-linecap="round"/>
<rect x="581.3" y="545.5" width="9" height="9" fill="#E1EDF7"/>
<text x="591.8" y="554.5" font-size="11.2" fill="#5E5E5E" textLength="242.5" lengthAdjust="spacingAndGlyphs">Indicates periods when U.S. construction spending</text>
<text y="568.4" font-size="11.2" fill="#5E5E5E"><tspan x="591.8" textLength="137.7" lengthAdjust="spacingAndGlyphs">as a percent of GDP is below</tspan> <tspan x="732.6" textLength="56.0" lengthAdjust="spacingAndGlyphs">1993-2009</tspan> <tspan x="791.6" textLength="38.2" lengthAdjust="spacingAndGlyphs">average</tspan></text>
<path d="M604.3,658.0 H641" stroke="#2277B6" stroke-width="3.1" stroke-linecap="round"/>
<text x="645.2" y="662.3" font-size="11.5" fill="#5E5E5E" textLength="46.8" lengthAdjust="spacingAndGlyphs">Pct. GDP</text>
<path d="M747,658.2 H759 M770,658.2 H782" stroke="#2B3D7E" stroke-width="2.8" stroke-linecap="round"/>
<text y="662.3" font-size="11.5" fill="#5E5E5E"><tspan x="787.6" textLength="42.6" lengthAdjust="spacingAndGlyphs">Average</tspan> <tspan x="834.3" textLength="70.5" lengthAdjust="spacingAndGlyphs">(1993-2009)</tspan></text>
<text y="722.8" font-size="9.3" fill="#585858"><tspan x="68.8" textLength="11.3" lengthAdjust="spacingAndGlyphs">(1)</tspan> <tspan x="94.2" textLength="124.4" lengthAdjust="spacingAndGlyphs">Source: Real Capital Analytics.</tspan> <tspan x="223.7" textLength="42.5" lengthAdjust="spacingAndGlyphs">Data from</tspan> <tspan x="268.9" textLength="42.4" lengthAdjust="spacingAndGlyphs">1/1/2001</tspan> <tspan x="315.2" textLength="31.2" lengthAdjust="spacingAndGlyphs">through</tspan> <tspan x="349.8" textLength="57.2" lengthAdjust="spacingAndGlyphs">12/31/2018.</tspan></text>
<text y="734.4" font-size="9.3" fill="#585858"><tspan x="68.8" textLength="11.3" lengthAdjust="spacingAndGlyphs">(2)</tspan> <tspan x="94.2" textLength="49.8" lengthAdjust="spacingAndGlyphs">Source: MS.</tspan> <tspan x="146.9" textLength="41.4" lengthAdjust="spacingAndGlyphs">Data from</tspan> <tspan x="191.8" textLength="43.0" lengthAdjust="spacingAndGlyphs">1/1/1992</tspan> <tspan x="238.1" textLength="31.2" lengthAdjust="spacingAndGlyphs">through</tspan> <tspan x="273.6" textLength="56.6" lengthAdjust="spacingAndGlyphs">12/31/2018.</tspan></text>
<text y="745.9" font-size="9.3" fill="#585858"><tspan x="68.8" textLength="11.3" lengthAdjust="spacingAndGlyphs">(3)</tspan> <tspan x="94.2" textLength="97.05" lengthAdjust="spacingAndGlyphs">Source: Census Bureau,</tspan> <tspan x="197.7" textLength="52.3" lengthAdjust="spacingAndGlyphs">BEA and MS.</tspan> <tspan x="253.7" textLength="41.6" lengthAdjust="spacingAndGlyphs">Data from</tspan> <tspan x="298.6" textLength="43.0" lengthAdjust="spacingAndGlyphs">1/1/1993</tspan> <tspan x="345.5" textLength="6.8" lengthAdjust="spacingAndGlyphs">to</tspan> <tspan x="355.2" textLength="51.8" lengthAdjust="spacingAndGlyphs">9/30/2018.</tspan></text>
<text x="971.7" y="713.9" font-size="14.4" fill="#4178B3" font-style="italic">7</text>
</svg>
</body></html>
